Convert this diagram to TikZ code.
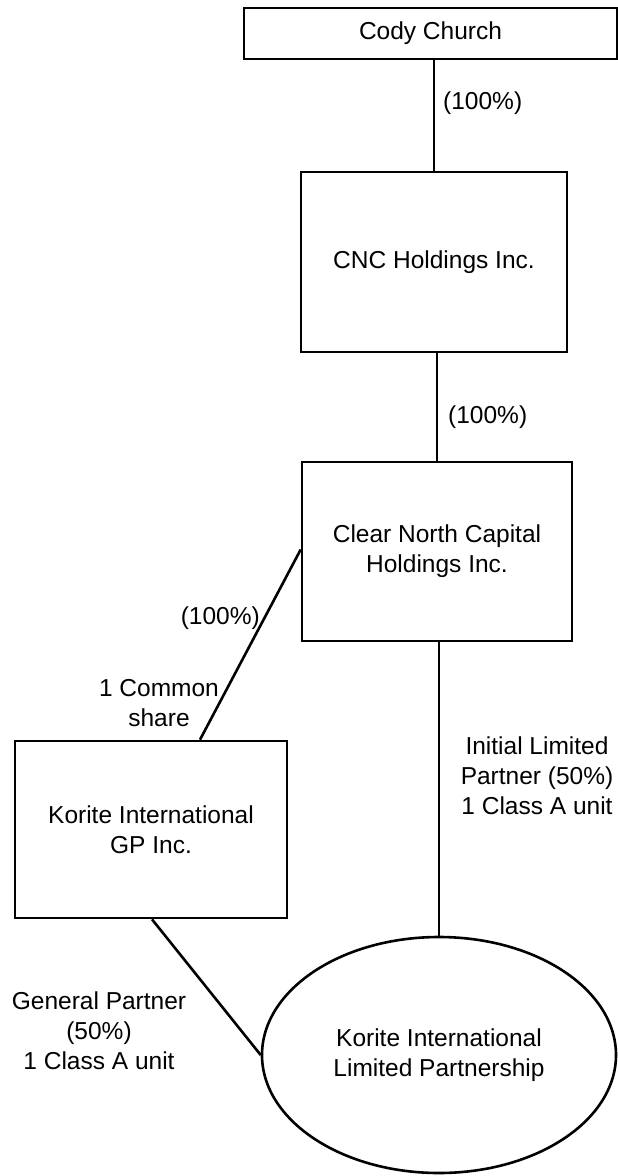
\documentclass[tikz,border=0pt]{standalone}
\usepackage{fontspec}
\setmainfont{Liberation Sans}
\usetikzlibrary{shapes.geometric}
\begin{document}
\begin{tikzpicture}[x=1pt,y=-1pt,
  ent/.style={draw, line width=2.6pt, inner sep=0pt, font=\fontsize{24.5}{30}\selectfont, align=center},
  lbl/.style={inner sep=0pt, font=\fontsize{24.5}{30}\selectfont, align=center},
  conn/.style={line width=2.6pt}]
\useasboundingbox (0,0) rectangle (618,1176);
% entities
\node[ent, minimum width=373pt, minimum height=51pt] (cody) at (430.5,33.5) {Cody Church};
\node[ent, minimum width=266pt, minimum height=180pt] (cnc) at (434,262) {CNC Holdings Inc.};
\node[ent, minimum width=270pt, minimum height=179pt] (cn) at (437,551.5) {Clear North Capital\\Holdings Inc.};
\node[ent, minimum width=272pt, minimum height=177pt] (gp) at (151,829.5) {Korite International\\GP Inc.};
\node[ent, ellipse, minimum width=354pt, minimum height=236pt] (kl) at (439,1055) {Korite International\\Limited Partnership};
% connectors
\draw[conn] (cnc.north |- cody.south) -- (cnc.north);
\draw[conn] (cn.north |- cnc.south) -- (cn.north);
\draw[conn] (kl.north |- cn.south) -- (kl.north);
\draw[conn] ([yshift=2pt]cn.west) -- ([xshift=49pt]gp.north);
\draw[conn] ([xshift=1pt]gp.south) -- (kl.west);
% labels
\node[lbl, anchor=west] (p1) at (443,103) {(100\%)};
\node[lbl, anchor=west] (p2) at (448,417) {(100\%)};
\node[lbl, anchor=east] (p3) at (260,618) {(100\%)};
\node[lbl] (common) at (159,703) {1 Common\\share};
\node[lbl] (ilp) at (537,776) {Initial Limited\\Partner (50\%)\\1 Class A unit};
\node[lbl] (gpl) at (99,1031) {General Partner\\(50\%)\\1 Class A unit};
\end{tikzpicture}
\end{document}
